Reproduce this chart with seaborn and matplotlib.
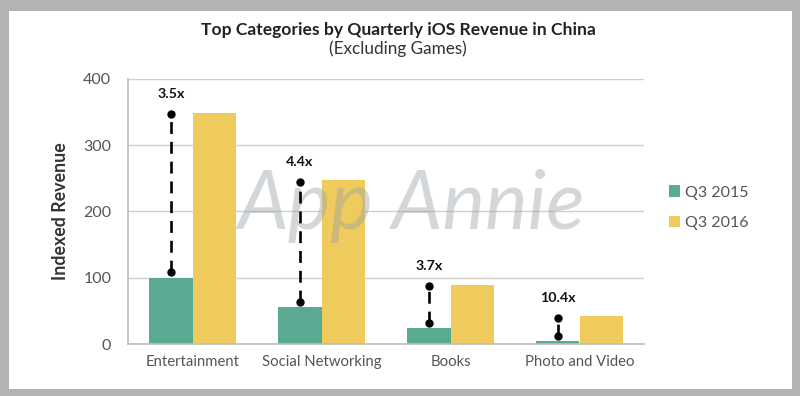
import matplotlib
matplotlib.use("Agg")
import matplotlib.pyplot as plt
import seaborn as sns
import pandas as pd
from matplotlib.patches import Rectangle

categories = ["Entertainment", "Social Networking", "Books", "Photo and Video"]
q3_2015 = [100, 56, 24, 4]
q3_2016 = [349, 247, 89, 42]
growth_labels = ["3.5x", "4.4x", "3.7x", "10.4x"]
series = ["Q3 2015", "Q3 2016"]
yticks = [0, 100, 200, 300, 400]

df = pd.DataFrame({
    "Category": categories * 2,
    "Series": [series[0]] * 4 + [series[1]] * 4,
    "Value": q3_2015 + q3_2016,
})

sns.set_theme(style="white")
plt.rcParams["font.family"] = ["Lato", "DejaVu Sans"]

fig = plt.figure(figsize=(8, 3.96), dpi=100)
fig.patch.set_facecolor("#b3b3b3")
fig.patches.append(Rectangle((9 / 800, 7 / 396), 783 / 800, 378 / 396,
                             transform=fig.transFigure, facecolor="white",
                             edgecolor="none", zorder=-10))

ax = fig.add_axes([128 / 800, (396 - 344) / 396, 516 / 800, 265 / 396])
ax.set_facecolor("none")

palette = {"Q3 2015": "#5aa993", "Q3 2016": "#eecb5c"}
sns.barplot(data=df, x="Category", y="Value", hue="Series", palette=palette,
            width=0.667, ax=ax, saturation=1, zorder=2, legend=True,
            linewidth=0, edgecolor="none")

ax.set_ylim(0, 400)
ax.set_yticks(yticks)
ax.set_xlim(-0.5, 3.5)
ax.yaxis.grid(True, color="#cfcfcf", linewidth=1, zorder=0)
ax.set_axisbelow(True)
for s in ["top", "right"]:
    ax.spines[s].set_visible(False)
for s in ["left", "bottom"]:
    ax.spines[s].set_color("#bdbdbd")
    ax.spines[s].set_linewidth(1.2)
ax.tick_params(axis="y", length=0, labelsize=11.5, colors="#555555", pad=12)
ax.tick_params(axis="x", length=0, labelsize=10.7, colors="#555555", pad=8)
ax.set_xlabel("")
ax.set_ylabel("Indexed Revenue", fontsize=12.8, fontweight="bold", color="#333333", labelpad=10)

# growth annotations
bars15 = ax.containers[0]
for bar, v15, v16, lab in zip(bars15, q3_2015, q3_2016, growth_labels):
    xc = bar.get_x() + bar.get_width() / 2
    lo = v15 + 8
    hi = v16 - 2
    ax.plot([xc, xc], [lo, hi], color="black", linestyle=(0, (4.5, 3)), linewidth=1.9, zorder=4)
    ax.plot([xc, xc], [lo, hi], "o", color="black", markersize=5, zorder=5)
    ax.text(xc, hi + 21, lab, ha="center", va="bottom", fontsize=10.3,
            fontweight="bold", color="#111111", zorder=5)

# watermark
ax.text(0.55, 0.52, "App Annie", transform=ax.transAxes, fontsize=58, style="italic",
        color="#9aa1a8", alpha=0.42, ha="center", va="center", zorder=3)

leg = ax.legend(loc="center left", bbox_to_anchor=(1.02, 0.515), frameon=False,
                handlelength=0.7, handleheight=0.7, handletextpad=0.35,
                labelspacing=1.0, fontsize=11.5)
for t in leg.get_texts():
    t.set_color("#555555")

fig.text(0.4975, 0.925, "Top Categories by Quarterly iOS Revenue in China", ha="center",
         va="center", fontsize=12.6, fontweight="bold", color="#222222")
fig.text(0.4975, 0.877, "(Excluding Games)", ha="center", va="center",
         fontsize=12.3, color="#333333")

fig.savefig("out.png", dpi=100, facecolor=fig.get_facecolor())
